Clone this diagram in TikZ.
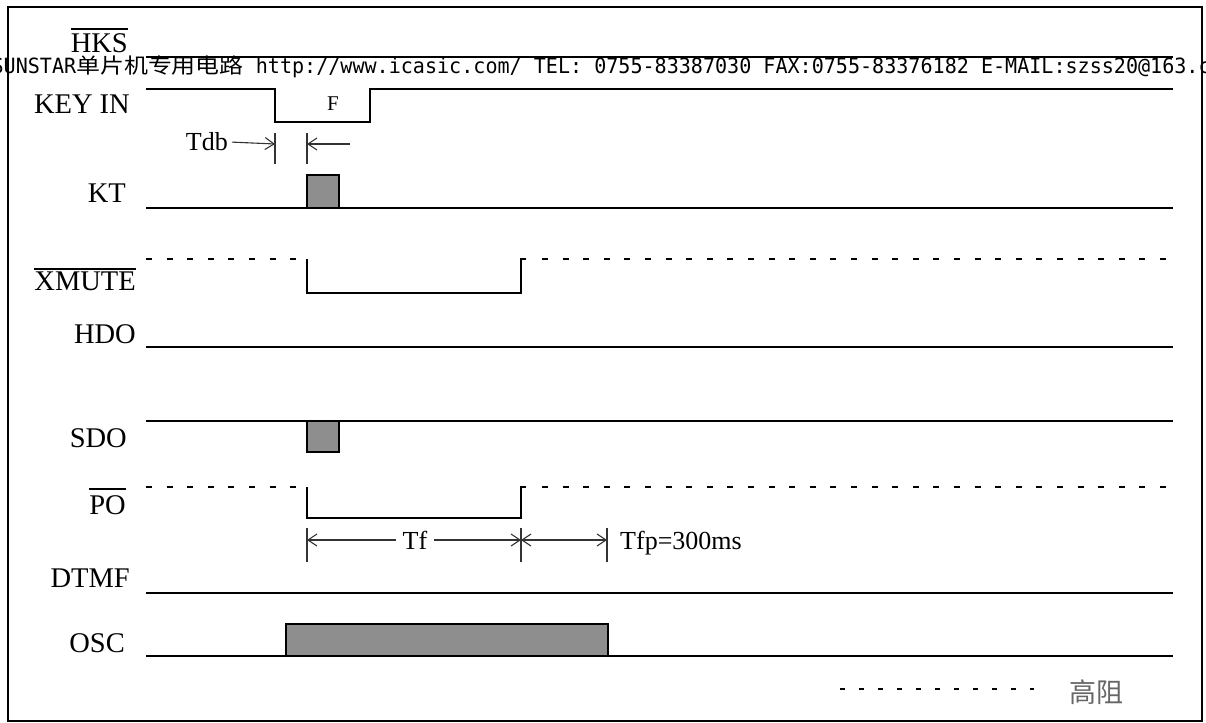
\documentclass[tikz,border=0pt]{standalone}
\usepackage{fontspec}
\setmainfont{Liberation Serif}
\newfontfamily\wmfont{DejaVu Sans Mono}[FakeStretch=0.956]
\newfontfamily\cjkwide{Noto Sans CJK SC}[FakeStretch=1.14]
\newfontfamily\cjkfont{Noto Sans CJK SC}
\usetikzlibrary{arrows.meta}
\definecolor{pulsegray}{RGB}{142,142,142}
\tikzset{
    sig/.style={line width=1.6pt},
    hiz/.style={line width=1.5pt, dash pattern=on 6pt off 14.6pt},
    dim/.style={line width=1.1pt, black!80},
    bar/.style={line width=1.4pt},
    lbl/.style={anchor=base east, inner sep=0pt, font=\fontsize{28.5}{30}\selectfont},
    dimtxt/.style={inner sep=0pt, font=\fontsize{26}{28}\selectfont},
}
\begin{document}
\begin{tikzpicture}[x=1pt, y=-1pt, >={Straight Barb[length=9pt,width=12pt]}]
    \useasboundingbox (0,0) rectangle (1206,722);
    \draw[line width=1.8pt] (8,7) rectangle (1202,721);
    % signal names
    \node[lbl] (hks) at (128,53) {HKS};
    \node[lbl] (keyin) at (130,114) {KEY IN};
    \node[lbl] (kt) at (126,202) {KT};
    \node[lbl] (xmute) at (136,290) {XMUTE};
    \node[lbl] (hdo) at (136,343) {HDO};
    \node[lbl] (sdo) at (127,447) {SDO};
    \node[lbl] (po) at (126,514) {PO};
    \node[lbl] (dtmf) at (130,587) {DTMF};
    \node[lbl] (osc) at (125,652) {OSC};
    \draw[bar] ([yshift=5pt]hks.north west) -- ([yshift=5pt]hks.north east);
    \draw[bar] ([yshift=2pt]xmute.north west) -- ([yshift=2pt]xmute.north east);
    \draw[bar] ([yshift=6pt]po.north west) -- ([yshift=6pt]po.north east);
    % flat lines
    \foreach \y in {57,208,347,421,593,656}
    {
        \draw[sig] (146,\y)--(1173,\y);
    }
    \draw[sig] (146,89)--(275,89)--(275,122)--(370,122)--(370,89)--(1173,89);
    \node[inner sep=0pt, font=\fontsize{21}{23}\selectfont] (f) at (333,104) {F};
    % pulses
    \filldraw[sig, fill=pulsegray] (307,208) rectangle (339,175);
    \filldraw[sig, fill=pulsegray] (307,421) rectangle (339,452);
    \filldraw[sig, fill=pulsegray] (286,656) rectangle (608,624);
    % high impedance parts
    \foreach \y/\l in {259/293,487/518}
    {
        \draw[hiz] (146,\y)--(300,\y);
        \draw[sig] (307,\y)--(307,\l)--(521,\l)--(521,\y)--(526,\y);
        \draw[hiz] (542,\y)--(1173,\y);
    }
    % Tdb
    \node[dimtxt, anchor=base east] (tdb) at (228,151) {Tdb};
    \coordinate (ka) at (275,144);
    \coordinate (kb) at (307,144);
    \draw[dim] (275,133)--(275,164);
    \draw[dim] (307,133)--(307,164);
    \draw[dim,->] (tdb.east)++(4,0) -- (ka);
    \draw[dim,->] (350,144) -- (kb);
    % Tf, Tfp
    \foreach \x in {307,521,607}
    {
        \draw[dim] (\x,528)--(\x,562);
    }
    \node[dimtxt, inner xsep=7pt] (tf) at (415,540) {Tf};
    \draw[dim,->] (tf) -- (307,540);
    \draw[dim,->] (tf) -- (521,540);
    \draw[dim,<->] (521,540) -- (607,540);
    \node[dimtxt, anchor=base west] (tfp) at (620,549) {Tfp=300ms};
    % legend
    \draw[hiz, dash pattern=on 5pt off 14pt] (840,689)--(1034,689);
    \node[inner sep=0pt, text=black!60, font=\cjkfont\fontsize{27}{29}\selectfont] (hz) at (1096,692) {高阻};
    % watermark
    \node[anchor=base west, inner sep=0pt, font=\wmfont\fontsize{21}{23}\selectfont] (wm) at (-8.6,74)
        {SUNSTAR{\cjkwide\fontsize{21}{22}\selectfont 单片机专用电路} http://www.icasic.com/ TEL: 0755-83387030 FAX:0755-83376182 E-MAIL:szss20@163.c};
\end{tikzpicture}
\end{document}
